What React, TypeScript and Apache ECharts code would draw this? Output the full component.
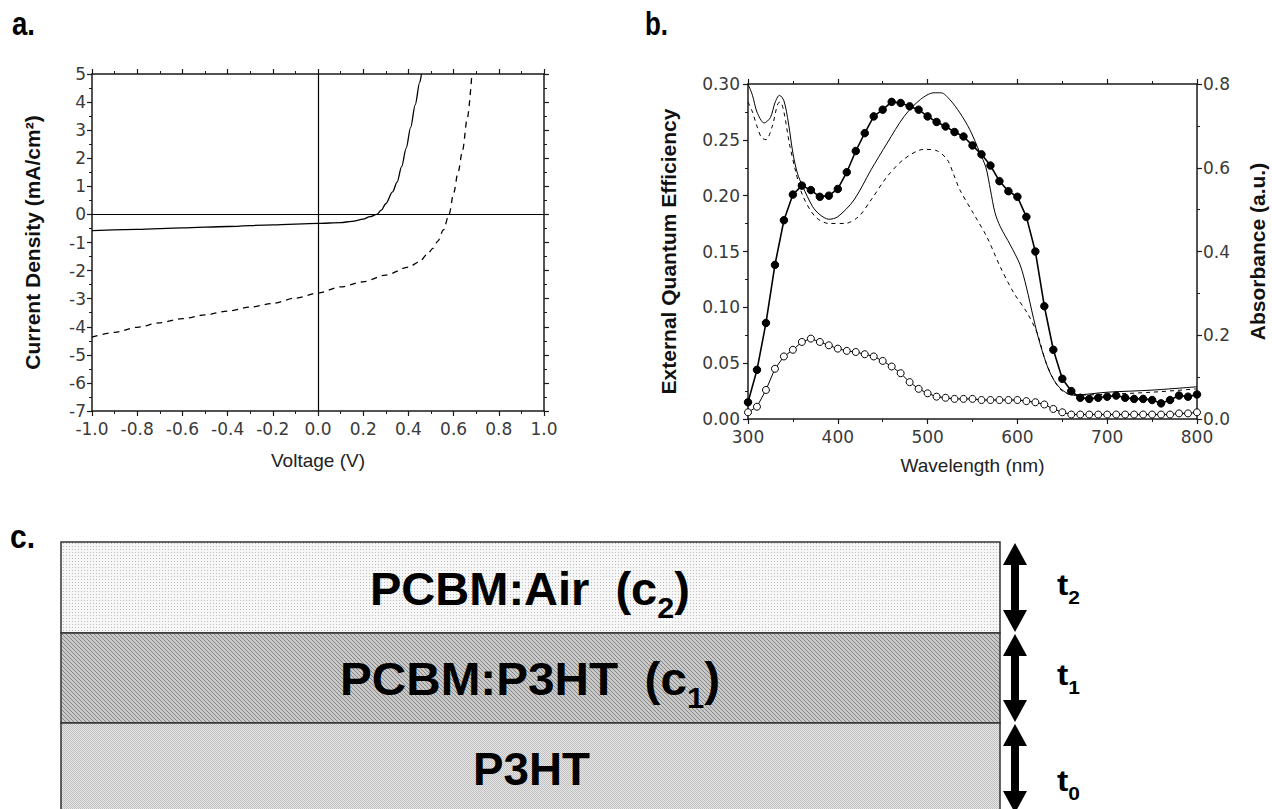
import React, { useEffect, useRef } from 'react';
import * as echarts from 'echarts';

// ---------- Panel a: J–V curves ----------
const JV_SOLID_V = [-1, -0.8, -0.6, -0.4, -0.2, 0, 0.1, 0.15, 0.2, 0.23, 0.26, 0.28, 0.3, 0.33, 0.35, 0.37, 0.39, 0.41, 0.43, 0.45, 0.458];
const JV_SOLID_J = [-0.58, -0.53, -0.48, -0.43, -0.37, -0.32, -0.29, -0.25, -0.17, -0.08, 0, 0.15, 0.38, 0.8, 1.15, 1.7, 2.35, 3.1, 3.9, 4.7, 5];
const JV_DASH_V = [-1, -0.9, -0.8, -0.7, -0.6, -0.5, -0.4, -0.3, -0.2, -0.1, 0, 0.1, 0.2, 0.3, 0.4, 0.45, 0.48, 0.51, 0.53, 0.555, 0.58, 0.6, 0.62, 0.64, 0.66, 0.68];
const JV_DASH_J = [-4.37, -4.2, -4.02, -3.86, -3.71, -3.58, -3.44, -3.3, -3.17, -2.98, -2.8, -2.58, -2.4, -2.16, -1.88, -1.68, -1.45, -1.2, -0.95, -0.55, 0, 0.75, 1.5, 2.3, 3.4, 4.9];

// ---------- Panel b: EQE and absorbance ----------
const WL = [300, 310, 320, 330, 340, 350, 360, 370, 380, 390, 400, 410, 420, 430, 440, 450, 460, 470, 480, 490, 500, 510, 520, 530, 540, 550, 560, 570, 580, 590, 600, 610, 620, 630, 640, 650, 660, 670, 680, 690, 700, 710, 720, 730, 740, 750, 760, 770, 780, 790, 800];
const EQE_FILLED = [0.015, 0.044, 0.086, 0.138, 0.178, 0.201, 0.209, 0.205, 0.199, 0.2, 0.206, 0.221, 0.24, 0.256, 0.271, 0.277, 0.284, 0.283, 0.28, 0.277, 0.271, 0.266, 0.262, 0.257, 0.253, 0.245, 0.237, 0.227, 0.213, 0.204, 0.199, 0.181, 0.15, 0.101, 0.062, 0.036, 0.025, 0.019, 0.018, 0.019, 0.02, 0.021, 0.019, 0.018, 0.018, 0.017, 0.014, 0.017, 0.021, 0.02, 0.022];
const EQE_OPEN = [0.006, 0.011, 0.026, 0.045, 0.056, 0.062, 0.069, 0.072, 0.069, 0.066, 0.063, 0.061, 0.06, 0.058, 0.056, 0.052, 0.047, 0.041, 0.033, 0.027, 0.023, 0.02, 0.019, 0.018, 0.018, 0.018, 0.017, 0.017, 0.017, 0.017, 0.017, 0.016, 0.015, 0.013, 0.009, 0.006, 0.004, 0.004, 0.004, 0.004, 0.004, 0.004, 0.004, 0.004, 0.004, 0.004, 0.004, 0.004, 0.005, 0.005, 0.006];
const ABS_SOLID_WL = [300, 305, 310, 318, 325, 330, 335, 340, 345, 350, 355, 361, 372, 380, 390, 400, 418, 437, 455, 474, 492, 507, 515, 525, 536, 547, 558, 565, 570, 575, 581, 592, 603, 610, 618, 625, 636, 647, 662, 700, 750, 800];
const ABS_SOLID = [0.8, 0.773, 0.733, 0.707, 0.72, 0.755, 0.773, 0.76, 0.707, 0.635, 0.587, 0.555, 0.507, 0.488, 0.477, 0.483, 0.523, 0.595, 0.659, 0.723, 0.763, 0.779, 0.779, 0.762, 0.731, 0.691, 0.637, 0.6, 0.547, 0.493, 0.459, 0.416, 0.368, 0.315, 0.24, 0.181, 0.112, 0.075, 0.057, 0.064, 0.069, 0.077];
const ABS_DASH_WL = [300, 305, 310, 315, 320, 327, 333, 336, 340, 346, 353, 361, 375, 390, 408, 423, 437, 455, 474, 496, 511, 522, 529, 536, 551, 566, 581, 596, 611, 622, 633, 647, 662, 700, 750, 800];
const ABS_DASH = [0.757, 0.733, 0.699, 0.672, 0.667, 0.699, 0.752, 0.757, 0.733, 0.659, 0.592, 0.533, 0.483, 0.467, 0.467, 0.483, 0.523, 0.579, 0.621, 0.644, 0.64, 0.619, 0.584, 0.547, 0.491, 0.435, 0.363, 0.301, 0.253, 0.205, 0.128, 0.073, 0.057, 0.059, 0.064, 0.072];

// ---------- Panel c: layer stack ----------
const LAYERS = [
  { main: 'PCBM:Air  (c', sub: '2', tail: ')', kind: 'dots' },
  { main: 'PCBM:P3HT  (c', sub: '1', tail: ')', kind: 'hatch' },
  { main: 'P3HT', sub: '', tail: '', kind: 'check' },
];
const THICKNESS = ['2', '1', '0'];

const zip = (a: number[], b: number[]) => a.map((v, i) => [v, b[i]]);
const FONT = '"Liberation Sans", Arial, sans-serif';
const TICKFONT = '"DejaVu Sans", sans-serif';

function makePattern(kind: string) {
  const c = document.createElement('canvas');
  const size = kind === 'dots' ? 3 : kind === 'hatch' ? 4 : 2;
  c.width = size; c.height = size;
  const ctx = c.getContext('2d')!;
  if (kind === 'dots') {
    ctx.fillStyle = '#f7f7f7'; ctx.fillRect(0, 0, 3, 3);
    ctx.fillStyle = '#bcbcbc'; ctx.fillRect(0, 0, 1, 1);
  } else if (kind === 'hatch') {
    ctx.fillStyle = '#c9c9c9'; ctx.fillRect(0, 0, 4, 4);
    ctx.fillStyle = '#858585';
    for (let i = 0; i < 4; i++) ctx.fillRect(i, i, 1, 1);
  } else {
    ctx.fillStyle = '#e9e9e9'; ctx.fillRect(0, 0, 2, 2);
    ctx.fillStyle = '#bdbdbd'; ctx.fillRect(0, 0, 1, 1); ctx.fillRect(1, 1, 1, 1);
  }
  return { type: 'pattern', image: c.toDataURL(), repeat: 'repeat', imageWidth: size, imageHeight: size };
}

let measureCtx: CanvasRenderingContext2D | null = null;
function measure(text: string, fs: number) {
  if (!measureCtx) measureCtx = document.createElement('canvas').getContext('2d');
  measureCtx!.font = `bold ${fs}px ${FONT}`;
  return measureCtx!.measureText(text).width;
}

// builds a bold label (with optional subscript) fitted to a target box
function label(parts: { main: string; sub?: string; tail?: string }, left: number, baseline: number, targetW: number, fs: number, sy: number, subFs: number, subDrop: number) {
  const children: any[] = [];
  let x = 0;
  const midOff = 0.3465;
  const add = (t: string, f: number, y: number) => {
    if (!t) return;
    children.push({ type: 'text', x, y, style: { text: t, font: `bold ${f}px ${FONT}`, fill: '#000', textAlign: 'left', textVerticalAlign: 'middle' } });
    x += measure(t, f);
  };
  add(parts.main, fs, 0);
  const subY = midOff * fs + subDrop / sy - midOff * subFs;
  if (parts.sub) add(parts.sub, subFs, subY);
  if (parts.tail) add(parts.tail, fs, 0);
  const sx = targetW / x;
  return { type: 'group', x: left, y: baseline - midOff * fs * sy, scaleX: sx, scaleY: sy, children };
}

function arrow(cx: number, y0: number, y1: number) {
  const hh = 22, hw = 12;
  return [
    { type: 'line', shape: { x1: cx, y1: y0 + hh - 2, x2: cx, y2: y1 - hh + 2 }, style: { stroke: '#000', lineWidth: 8 } },
    { type: 'polygon', shape: { points: [[cx - hw, y0 + hh], [cx, y0], [cx + hw, y0 + hh]] }, style: { fill: '#000' } },
    { type: 'polygon', shape: { points: [[cx - hw, y1 - hh], [cx, y1], [cx + hw, y1 - hh]] }, style: { fill: '#000' } },
  ];
}

const axisCommon = {
  axisLine: { onZero: false, lineStyle: { color: '#1a1a1a', width: 1.5 } },
  axisTick: { inside: false, length: 5, lineStyle: { color: '#1a1a1a', width: 1.2 } },
  minorTick: { show: true, splitNumber: 2, length: 3, lineStyle: { color: '#1a1a1a', width: 1 } },
  splitLine: { show: false },
  nameTextStyle: { fontFamily: FONT, fontSize: 19, color: '#222' },
};
const labelStyle = { fontFamily: TICKFONT, fontSize: 17, color: '#3a3a3a' };
const boldName = { fontFamily: FONT, fontSize: 21, fontWeight: 'bold', color: '#111' };

export default function App() {
  const ref = useRef<HTMLDivElement>(null);
  useEffect(() => {
    const chart = echarts.init(ref.current!, null, { renderer: 'svg' });
    const layerTops = [542, 633, 723];
    const layerH = [91, 90, 100];
    const graphics: any[] = [];
    LAYERS.forEach((L, i) => {
      graphics.push({ type: 'rect', shape: { x: 61, y: layerTops[i], width: 939, height: layerH[i] }, style: { fill: makePattern(L.kind), stroke: '#333', lineWidth: 1.5 } });
    });
    graphics.push(label({ main: LAYERS[0].main, sub: LAYERS[0].sub, tail: LAYERS[0].tail }, 370, 605, 320, 40, 1.15, 26, 13));
    graphics.push(label({ main: LAYERS[1].main, sub: LAYERS[1].sub, tail: LAYERS[1].tail }, 340, 695, 380, 40, 1.15, 26, 13));
    graphics.push(label({ main: LAYERS[2].main }, 473, 785, 117, 40, 1.15, 26, 13));
    const arrowSpans = [[543, 632], [634, 722], [724, 813]];
    arrowSpans.forEach(([a, b]) => graphics.push(...arrow(1015, a, b)));
    const tBase = [595, 685, 791];
    THICKNESS.forEach((s, i) => graphics.push(label({ main: 't', sub: s }, 1057, tBase[i], 23, 26, 1.15, 16, 9)));
    graphics.push(label({ main: 'a.' }, 12, 35, 23, 28, 1.2, 16, 0));
    graphics.push(label({ main: 'b.' }, 645, 35, 23, 28, 1.2, 16, 0));
    graphics.push(label({ main: 'c.' }, 10, 548, 25, 28, 1.2, 16, 0));

    const fmt1 = (v: number) => (Math.abs(v) < 1e-9 ? '0.0' : v.toFixed(1));
    const fmtInt = (v: number) => String(Math.round(v));

    chart.setOption({
      animation: false,
      backgroundColor: '#fff',
      grid: [
        { left: 92, top: 74, width: 452, height: 337 },
        { left: 748, top: 84, width: 449, height: 335 },
      ],
      xAxis: [
        { ...axisCommon, type: 'value', gridIndex: 0, position: 'bottom', min: -1, max: 1, interval: 0.2,
          axisLabel: { ...labelStyle, margin: 9, formatter: fmt1 },
          name: 'Voltage (V)', nameLocation: 'middle', nameGap: 40 },
        { ...axisCommon, type: 'value', gridIndex: 0, position: 'top', min: -1, max: 1, interval: 0.2, axisLabel: { show: false } },
        { ...axisCommon, type: 'value', gridIndex: 1, position: 'bottom', min: 300, max: 800, interval: 100,
          axisLabel: { ...labelStyle, margin: 9, formatter: fmtInt },
          name: 'Wavelength (nm)', nameLocation: 'middle', nameGap: 37 },
        { ...axisCommon, type: 'value', gridIndex: 1, position: 'top', min: 300, max: 800, interval: 100, axisLabel: { show: false } },
      ],
      yAxis: [
        { ...axisCommon, type: 'value', gridIndex: 0, position: 'left', min: -7, max: 5, interval: 1,
          axisLabel: { ...labelStyle, margin: 6, formatter: fmtInt },
          name: 'Current Density (mA/cm²)', nameLocation: 'middle', nameGap: 49, nameRotate: 90, nameTextStyle: boldName },
        { ...axisCommon, type: 'value', gridIndex: 0, position: 'right', min: -7, max: 5, interval: 1, axisLabel: { show: false } },
        { ...axisCommon, type: 'value', gridIndex: 1, position: 'left', min: 0, max: 0.3, interval: 0.05,
          axisLabel: { ...labelStyle, margin: 8, formatter: (v: number) => v.toFixed(2) },
          name: 'External Quantum Efficiency', nameLocation: 'middle', nameGap: 69, nameRotate: 90, nameTextStyle: boldName },
        { ...axisCommon, type: 'value', gridIndex: 1, position: 'right', min: 0, max: 0.8, interval: 0.2,
          axisLabel: { ...labelStyle, margin: 6, formatter: fmt1 },
          name: 'Absorbance (a.u.)', nameLocation: 'middle', nameGap: 50, nameRotate: 90, nameTextStyle: boldName },
      ],
      series: [
        { type: 'line', xAxisIndex: 0, yAxisIndex: 0, data: zip(JV_SOLID_V, JV_SOLID_J), showSymbol: false, smooth: 0.3, smoothMonotone: 'x',
          lineStyle: { color: '#000', width: 1.3 },
          markLine: { silent: true, symbol: ['none', 'none'], label: { show: false }, lineStyle: { color: '#000', type: 'solid', width: 1.2 },
            data: [{ xAxis: 0 }, { yAxis: 0 }] } },
        { type: 'line', xAxisIndex: 0, yAxisIndex: 0, data: zip(JV_DASH_V, JV_DASH_J), showSymbol: false, smooth: 0.3, smoothMonotone: 'x',
          lineStyle: { color: '#000', width: 1.3, type: [6, 5] } },
        { type: 'line', xAxisIndex: 2, yAxisIndex: 3, data: zip(ABS_SOLID_WL, ABS_SOLID), showSymbol: false, smooth: 0.3,
          lineStyle: { color: '#000', width: 1 } },
        { type: 'line', xAxisIndex: 2, yAxisIndex: 3, data: zip(ABS_DASH_WL, ABS_DASH), showSymbol: false, smooth: 0.3,
          lineStyle: { color: '#000', width: 1, type: [4, 4] } },
        { type: 'line', xAxisIndex: 2, yAxisIndex: 2, data: zip(WL, EQE_OPEN), symbol: 'circle', symbolSize: 7,
          itemStyle: { color: '#fff', borderColor: '#000', borderWidth: 1 }, lineStyle: { color: '#000', width: 1 } },
        { type: 'line', xAxisIndex: 2, yAxisIndex: 2, data: zip(WL, EQE_FILLED), symbol: 'circle', symbolSize: 7.5,
          itemStyle: { color: '#000', borderColor: '#000' }, lineStyle: { color: '#000', width: 1.6 } },
      ],
      graphic: graphics,
    });
    return () => chart.dispose();
  }, []);
  return <div ref={ref} style={{ position: 'fixed', left: 0, top: 0, width: 1272, height: 809, background: '#fff' }} />;
}
